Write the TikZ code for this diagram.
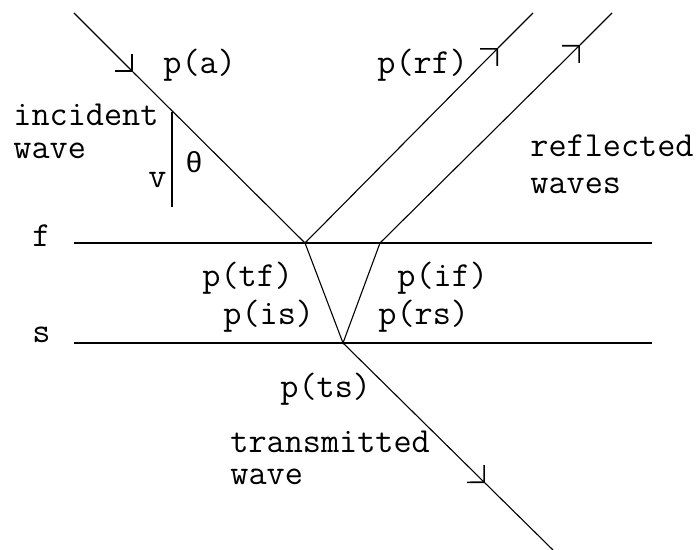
\documentclass[tikz,border=0pt]{standalone}
\usepackage{fontspec}
\usetikzlibrary{arrows.meta}
\newfontfamily\greekfont{Liberation Mono}

\begin{document}
\begin{tikzpicture}[x=0.5pt,y=-0.5pt,>={Straight Barb[length=6pt,width=12pt,line width=0.8pt]},
  ray/.style={line width=0.55pt},
  face/.style={line width=1pt},
  lbl/.style={anchor=base west,inner sep=0pt,font=\ttfamily\fontsize{17.6}{20}\selectfont}]
\useasboundingbox (0,0) rectangle (697,550);
\coordinate (f0) at (74,243);
\coordinate (f1) at (652,243);
\coordinate (s0) at (74,343);
\coordinate (s1) at (652,343);
\coordinate (hitf) at (305,243);
\coordinate (backf) at (380,243);
\coordinate (hits) at (343,343);
\coordinate (inc0) at (74,13);
\coordinate (incA) at (133,72);
\coordinate (rf1A) at (498,48);
\coordinate (rf1) at (533,13);
\coordinate (rf2A) at (580,45);
\coordinate (rf2) at (612,13);
\coordinate (ts1A) at (485,483);
\coordinate (ts1) at (553,550);
\coordinate (v0) at (172,112);
\coordinate (v1) at (172,207);
\draw[face] (f0) -- (f1);
\draw[face] (s0) -- (s1);
\draw[ray,->] (inc0) -- (incA);
\draw[ray] (incA) -- (hitf);
\draw[ray,->] (hitf) -- (rf1A);
\draw[ray] (rf1A) -- (rf1);
\draw[ray] (hitf) -- (hits) -- (backf);
\draw[ray,->] (backf) -- (rf2A);
\draw[ray] (rf2A) -- (rf2);
\draw[ray,->] (hits) -- (ts1A);
\draw[ray] (ts1A) -- (ts1);
\draw[face] (v0) -- (v1);
\node[lbl] (pa) at (163,74) {p(a)};
\node[lbl] (prf) at (377,74) {p(rf)};
\node[lbl] (inc) at (13,126) {incident};
\node[lbl] (incw) at (13,159) {wave};
\node[lbl,font=\greekfont\fontsize{14.5}{17}\selectfont] (theta) at (185,173) {θ};
\node[lbl] (vel) at (148,188) {v};
\node[lbl] (refl) at (530,157) {reflected};
\node[lbl] (reflw) at (530,194) {waves};
\node[lbl] (flbl) at (32,247) {f};
\node[lbl] (slbl) at (32,343) {s};
\node[lbl] (ptf) at (202,287) {p(tf)};
\node[lbl] (pif) at (397,287) {p(if)};
\node[lbl] (pis) at (223,325) {p(is)};
\node[lbl] (prs) at (378,325) {p(rs)};
\node[lbl] (pts) at (280,398) {p(ts)};
\node[lbl] (trans) at (230,453) {transmitted};
\node[lbl] (transw) at (230,485) {wave};
\end{tikzpicture}
\end{document}
